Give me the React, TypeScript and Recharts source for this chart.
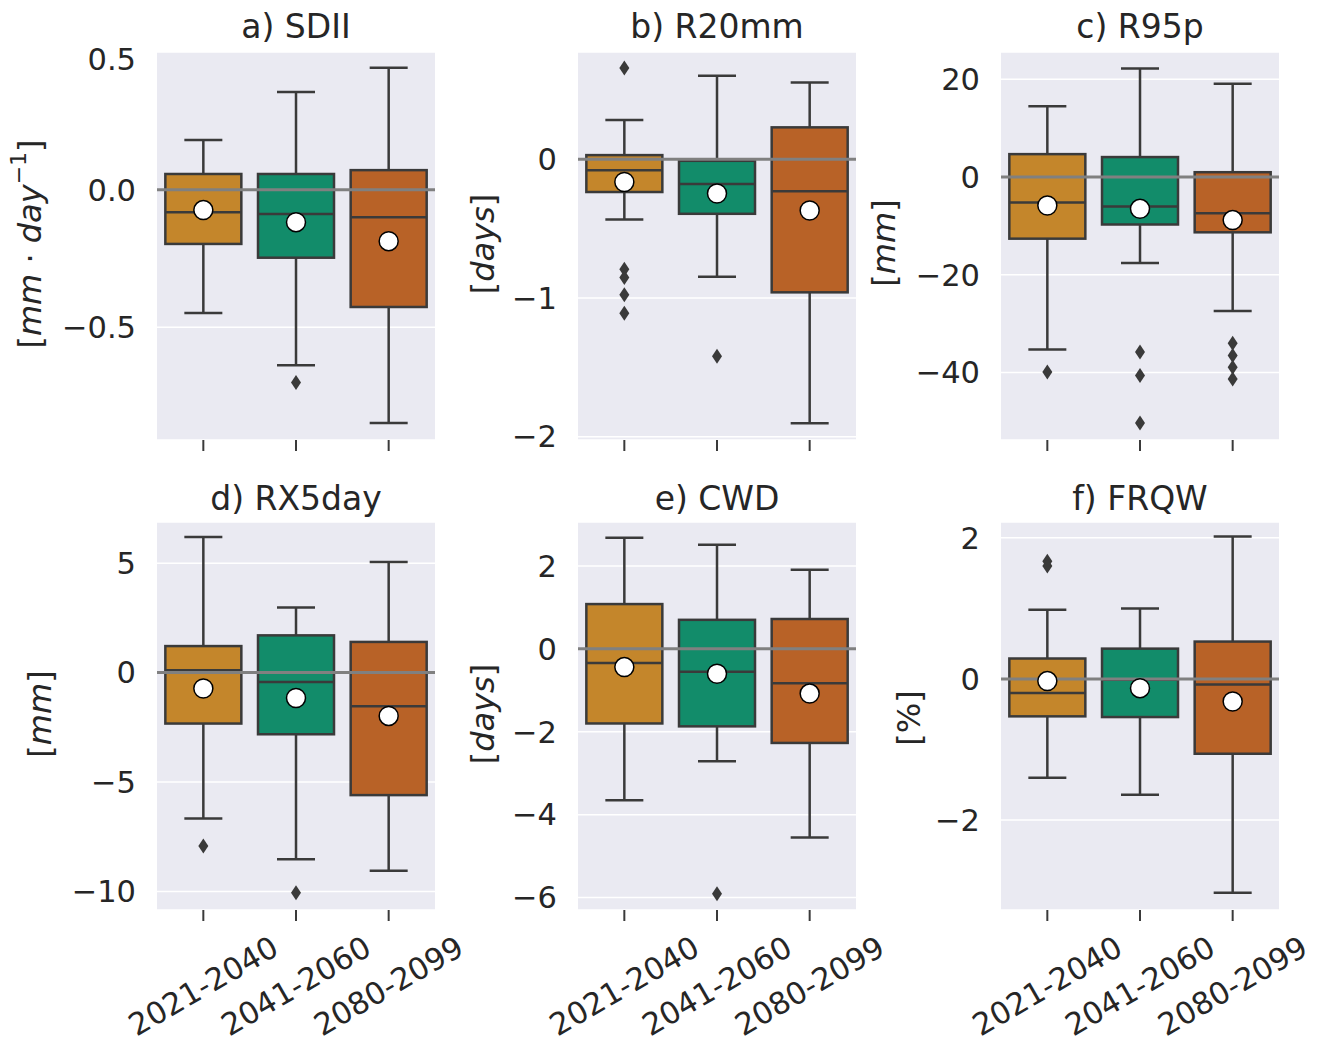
import React from "react";
import {
  ComposedChart,
  Bar,
  Scatter,
  XAxis,
  YAxis,
  CartesianGrid,
  ReferenceLine,
} from "recharts";

const periods = ["2021-2040", "2041-2060", "2080-2099"];

// each box: [lower whisker, q1, median, q3, upper whisker]
const sdiiBox = [
  [-0.448, -0.197, -0.082, 0.057, 0.18],
  [-0.638, -0.247, -0.088, 0.057, 0.355],
  [-0.847, -0.426, -0.1, 0.071, 0.443],
];
const sdiiMean = [-0.074, -0.118, -0.187];
const sdiiOut = [[], [-0.7], []];

const r20Box = [
  [-0.435, -0.237, -0.081, 0.029, 0.282],
  [-0.848, -0.394, -0.179, -0.012, 0.6],
  [-1.904, -0.96, -0.232, 0.229, 0.552],
];
const r20Mean = [-0.165, -0.248, -0.37];
const r20Out = [[0.657, -0.793, -0.853, -0.977, -1.111], [-1.42], []];

const r95Box = [
  [-35.3, -12.6, -5.2, 4.7, 14.5],
  [-17.6, -9.7, -6.0, 4.1, 22.2],
  [-27.4, -11.3, -7.4, 1.0, 19.1],
];
const r95Mean = [-5.8, -6.5, -8.8];
const r95Out = [[-39.9], [-35.8, -40.6, -50.3], [-34.0, -36.5, -38.9, -41.3]];

const rx5Box = [
  [-6.67, -2.33, 0.1, 1.21, 6.19],
  [-8.53, -2.82, -0.43, 1.7, 2.97],
  [-9.06, -5.6, -1.54, 1.4, 5.05],
];
const rx5Mean = [-0.73, -1.16, -1.98];
const rx5Out = [[-7.93], [-10.06], []];

const cwdBox = [
  [-3.65, -1.8, -0.34, 1.08, 2.68],
  [-2.71, -1.87, -0.55, 0.7, 2.51],
  [-4.55, -2.27, -0.83, 0.72, 1.91],
];
const cwdMean = [-0.44, -0.6, -1.08];
const cwdOut = [[], [-5.91], []];

const frqwBox = [
  [-1.4, -0.53, -0.2, 0.29, 0.98],
  [-1.64, -0.54, -0.01, 0.43, 1.0],
  [-3.03, -1.06, -0.08, 0.53, 2.02],
];
const frqwMean = [-0.03, -0.13, -0.32];
const frqwOut = [[1.67, 1.6], [], []];

const boxColors = ["#C4862B", "#128C6A", "#B86227"];
const EDGE = "#3a3a3a";
const TEXT = "#262626";
const FONT = '"DejaVu Sans", sans-serif';

const PLOT_W = 278;
const PLOT_H = 388;
const Y_W = 110;
const M_TOP = 10;
const M_RIGHT = 60;
const X_H = 145;
const TICK_FS = 30.5;

function buildRows(box: number[][], mean: number[], out: number[][]) {
  return periods.map((p, i) => ({
    period: p,
    lo: box[i][0],
    q1: box[i][1],
    med: box[i][2],
    q3: box[i][3],
    hi: box[i][4],
    mean: mean[i],
    out: out[i],
  }));
}

const BoxShape = (props: any) => {
  const { x, y, width, height, payload, index } = props;
  if (!payload) return null;
  const top = Math.min(y, y + height);
  const bot = Math.max(y, y + height);
  const py = (v: number) =>
    top + ((payload.hi - v) / (payload.hi - payload.lo)) * (bot - top);
  const cx = x + width / 2;
  const cap = width / 4;
  const sw = 2.5;
  return (
    <g>
      <line x1={cx} x2={cx} y1={py(payload.hi)} y2={py(payload.q3)} stroke={EDGE} strokeWidth={sw} />
      <line x1={cx} x2={cx} y1={py(payload.q1)} y2={py(payload.lo)} stroke={EDGE} strokeWidth={sw} />
      <line x1={cx - cap} x2={cx + cap} y1={py(payload.hi)} y2={py(payload.hi)} stroke={EDGE} strokeWidth={sw} />
      <line x1={cx - cap} x2={cx + cap} y1={py(payload.lo)} y2={py(payload.lo)} stroke={EDGE} strokeWidth={sw} />
      <rect
        x={x}
        y={py(payload.q3)}
        width={width}
        height={py(payload.q1) - py(payload.q3)}
        fill={boxColors[index % 3]}
        stroke={EDGE}
        strokeWidth={sw}
      />
      <line x1={x} x2={x + width} y1={py(payload.med)} y2={py(payload.med)} stroke={EDGE} strokeWidth={sw} />
      {payload.out.map((v: number, k: number) => {
        const oy = py(v);
        return (
          <path
            key={k}
            d={`M${cx},${oy - 7.5} L${cx + 5},${oy} L${cx},${oy + 7.5} L${cx - 5},${oy} Z`}
            fill={EDGE}
          />
        );
      })}
    </g>
  );
};

const MeanDot = (props: any) => {
  const { cx, cy } = props;
  if (cx == null || cy == null || isNaN(cy)) return null;
  return <circle cx={cx} cy={cy} r={9.5} fill="#ffffff" stroke="#000000" strokeWidth={1.5} />;
};

const fmt = (dec: number) => (v: number) =>
  (v < 0 ? "\u2212" : "") + Math.abs(v).toFixed(dec);

const XTick = (props: any) => {
  const { x, y, payload, show } = props;
  if (!show) return <g />;
  const cy = y + 63;
  return (
    <text
      x={x}
      y={cy}
      textAnchor="middle"
      dominantBaseline="central"
      transform={`rotate(-30, ${x}, ${cy})`}
      fill={TEXT}
      fontSize={TICK_FS}
      fontFamily={FONT}
    >
      {payload.value}
    </text>
  );
};

interface PanelProps {
  rows: any[];
  domain: [number, number];
  ticks: number[];
  dec: number;
  plotX: number;
  plotY: number;
  showX: boolean;
}

const Panel = ({ rows, domain, ticks, dec, plotX, plotY, showX }: PanelProps) => (
  <div style={{ position: "absolute", left: plotX - Y_W, top: plotY - M_TOP }}>
    <ComposedChart
      width={Y_W + PLOT_W + M_RIGHT}
      height={M_TOP + PLOT_H + X_H}
      data={rows}
      margin={{ top: M_TOP, right: M_RIGHT, left: 0, bottom: 0 }}
      barCategoryGap="9%"
    >
      <CartesianGrid horizontal vertical={false} stroke="#ffffff" strokeWidth={1.5} fill="#EAEAF2" />
      <XAxis
        dataKey="period"
        type="category"
        axisLine={false}
        tickSize={11}
        tickLine={{ stroke: EDGE, strokeWidth: 2 }}
        height={X_H}
        interval={0}
        tick={(p: any) => <XTick {...p} show={showX} />}
      />
      <YAxis
        type="number"
        domain={domain}
        ticks={ticks}
        allowDataOverflow
        width={Y_W}
        axisLine={false}
        tickLine={false}
        tickSize={0}
        tickMargin={21}
        tickFormatter={fmt(dec)}
        tick={{ fill: TEXT, fontSize: TICK_FS, fontFamily: FONT }}
      />
      <Bar
        dataKey={(d: any) => [d.lo, d.hi]}
        shape={<BoxShape />}
        isAnimationActive={false}
      />
      <ReferenceLine y={0} stroke="#808080" strokeWidth={3} />
      <Scatter dataKey="mean" shape={<MeanDot />} isAnimationActive={false} />
    </ComposedChart>
  </div>
);

const COLS = [157, 578, 1001];
const ROWS = [52, 522];

export default function App() {
  return (
    <div style={{ position: "absolute", left: 0, top: 0, width: 1331, height: 1050, background: "#ffffff" }}>
      <Panel rows={buildRows(sdiiBox, sdiiMean, sdiiOut)} domain={[-0.909, 0.5]} ticks={[-0.5, 0, 0.5]} dec={1} plotX={COLS[0]} plotY={ROWS[0]} showX={false} />
      <Panel rows={buildRows(r20Box, r20Mean, r20Out)} domain={[-2.024, 0.772]} ticks={[-2, -1, 0]} dec={0} plotX={COLS[1]} plotY={ROWS[0]} showX={false} />
      <Panel rows={buildRows(r95Box, r95Mean, r95Out)} domain={[-53.8, 25.6]} ticks={[-40, -20, 0, 20]} dec={0} plotX={COLS[2]} plotY={ROWS[0]} showX={false} />
      <Panel rows={buildRows(rx5Box, rx5Mean, rx5Out)} domain={[-10.85, 6.88]} ticks={[-10, -5, 0, 5]} dec={0} plotX={COLS[0]} plotY={ROWS[1]} showX />
      <Panel rows={buildRows(cwdBox, cwdMean, cwdOut)} domain={[-6.3, 3.06]} ticks={[-6, -4, -2, 0, 2]} dec={0} plotX={COLS[1]} plotY={ROWS[1]} showX />
      <Panel rows={buildRows(frqwBox, frqwMean, frqwOut)} domain={[-3.275, 2.225]} ticks={[-2, 0, 2]} dec={0} plotX={COLS[2]} plotY={ROWS[1]} showX />
      <svg
        width={1331}
        height={1050}
        style={{ position: "absolute", left: 0, top: 0, pointerEvents: "none" }}
        fontFamily={FONT}
        fill={TEXT}
      >
        <text x={296} y={38} textAnchor="middle" fontSize={33}>a) SDII</text>
        <text x={717} y={38} textAnchor="middle" fontSize={33}>b) R20mm</text>
        <text x={1140} y={38} textAnchor="middle" fontSize={33}>c) R95p</text>
        <text x={296} y={510} textAnchor="middle" fontSize={33}>d) RX5day</text>
        <text x={717} y={510} textAnchor="middle" fontSize={33}>e) CWD</text>
        <text x={1140} y={510} textAnchor="middle" fontSize={33}>f) FRQW</text>

        <text transform="translate(30,244) rotate(-90)" textAnchor="middle" dominantBaseline="central" fontSize={32}>
          [<tspan fontStyle="italic">mm</tspan>{" \u00b7 "}<tspan fontStyle="italic">day</tspan>
          <tspan dy={-12} fontSize={22}>{"\u22121"}</tspan>
          <tspan dy={12}>]</tspan>
        </text>
        <text transform="translate(483,244) rotate(-90)" textAnchor="middle" dominantBaseline="central" fontSize={32}>
          [<tspan fontStyle="italic">days</tspan>]
        </text>
        <text transform="translate(884,243) rotate(-90)" textAnchor="middle" dominantBaseline="central" fontSize={32}>
          [<tspan fontStyle="italic">mm</tspan>]
        </text>
        <text transform="translate(40,714) rotate(-90)" textAnchor="middle" dominantBaseline="central" fontSize={32}>
          [<tspan fontStyle="italic">mm</tspan>]
        </text>
        <text transform="translate(483,714) rotate(-90)" textAnchor="middle" dominantBaseline="central" fontSize={32}>
          [<tspan fontStyle="italic">days</tspan>]
        </text>
        <text transform="translate(909,718) rotate(-90)" textAnchor="middle" dominantBaseline="central" fontSize={32}>
          [%]
        </text>
      </svg>
    </div>
  );
}
